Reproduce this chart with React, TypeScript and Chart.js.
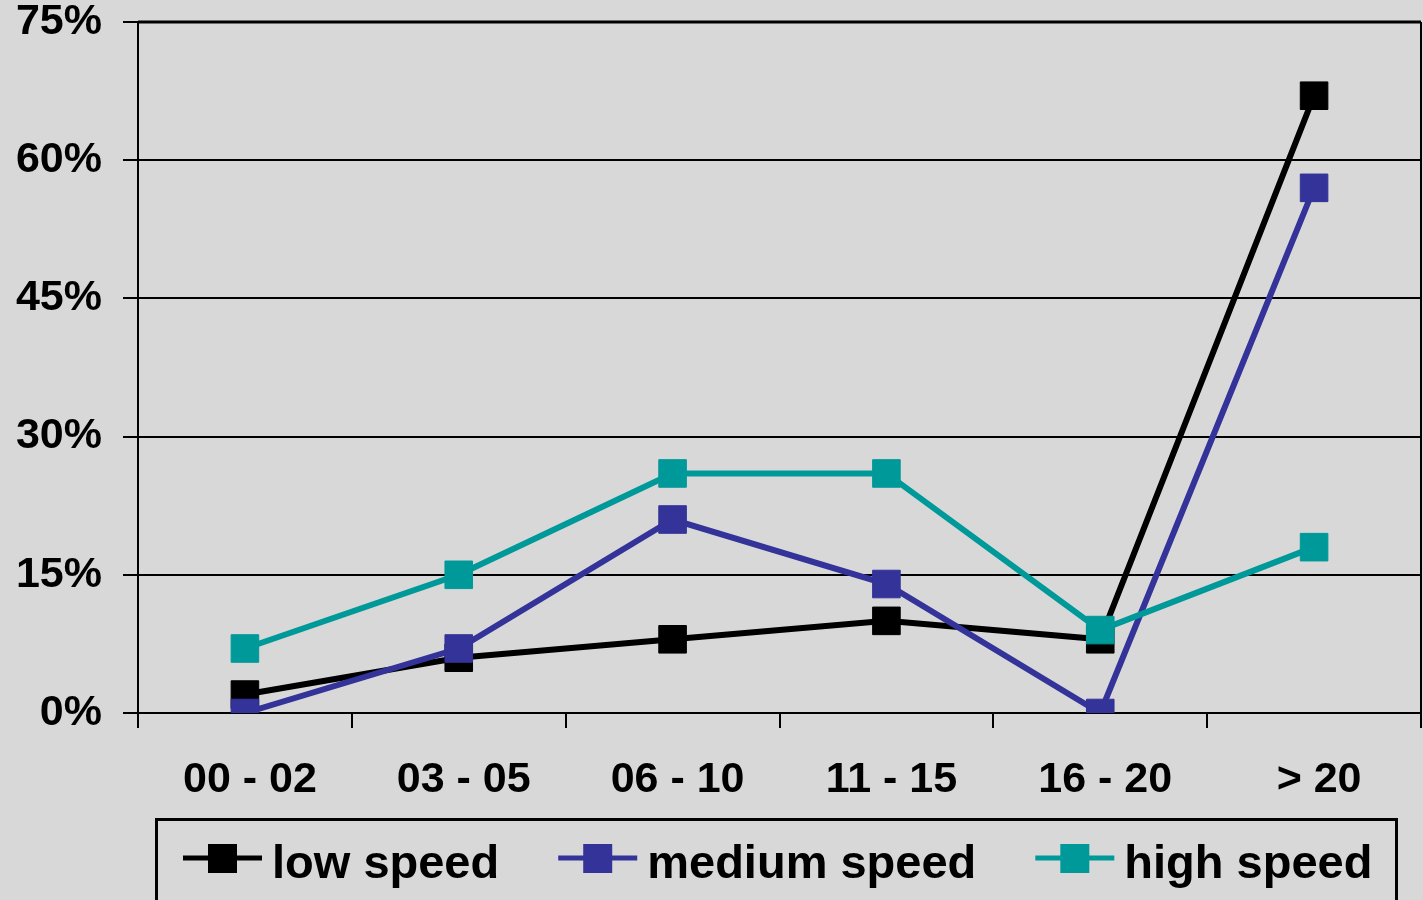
import React, { useEffect, useRef } from "react";
import { Chart, registerables } from "chart.js";

Chart.register(...registerables);

// Journey length bands
const categories = ["00 - 02", "03 - 05", "06 - 10", "11 - 15", "16 - 20", "> 20"];

// Share of trips per band (%)
const lowSpeed = [2, 6, 8, 10, 8, 67];
const mediumSpeed = [0, 7, 21, 14, 0, 57];
const highSpeed = [7, 15, 26, 26, 9, 18];

const seriesNames = ["low speed", "medium speed", "high speed"];
const seriesColors = ["#000000", "#333399", "#009999"];

const yTicks = [0, 15, 30, 45, 60, 75];

const FONT = '"Liberation Sans", Arial, Helvetica, sans-serif';
const BG = "#d8d8d8";

const backgroundPlugin = {
  id: "pageBackground",
  beforeDraw(chart: any) {
    const ctx = chart.ctx;
    ctx.save();
    ctx.fillStyle = BG;
    ctx.fillRect(0, 0, chart.width, chart.height);
    ctx.restore();
  },
};

// Plot frame (top and right edges) plus the boxed legend underneath the axis
const frameAndLegendPlugin = {
  id: "frameAndLegend",
  afterDraw(chart: any) {
    const ctx = chart.ctx;
    const area = chart.chartArea;
    ctx.save();
    ctx.strokeStyle = "#000";
    ctx.lineWidth = 3;
    ctx.beginPath();
    ctx.moveTo(area.left, area.top);
    ctx.lineTo(area.right, area.top);
    ctx.stroke();
    ctx.lineWidth = 2;
    ctx.beginPath();
    ctx.moveTo(area.right, area.top);
    ctx.lineTo(area.right, area.bottom);
    ctx.stroke();

    // legend box
    ctx.lineWidth = 3;
    ctx.strokeRect(156.5, 819.5, 1240, 140);

    ctx.font = `bold 47px ${FONT}`;
    ctx.textBaseline = "alphabetic";
    let x = 183;
    const cy = 858;
    chart.data.datasets.forEach((ds: any) => {
      const color = ds.borderColor;
      ctx.strokeStyle = color;
      ctx.lineWidth = 5;
      ctx.beginPath();
      ctx.moveTo(x, cy);
      ctx.lineTo(x + 79, cy);
      ctx.stroke();
      ctx.fillStyle = color;
      ctx.fillRect(x + 25, cy - 14, 29, 29);
      const tx = x + 89;
      ctx.fillStyle = "#000";
      ctx.fillText(ds.label, tx, cy + 20);
      x = tx + ctx.measureText(ds.label).width + 59;
    });
    ctx.restore();
  },
};

export default function App() {
  const canvasRef = useRef<HTMLCanvasElement | null>(null);

  useEffect(() => {
    document.body.style.margin = "0";
    const canvas = canvasRef.current;
    if (!canvas) return;

    const values = [lowSpeed, mediumSpeed, highSpeed];
    const datasets = values.map((data, i) => ({
      label: seriesNames[i],
      data,
      borderColor: seriesColors[i],
      backgroundColor: seriesColors[i],
      pointBackgroundColor: seriesColors[i],
      pointBorderColor: seriesColors[i],
      borderWidth: 6,
      pointStyle: "rect",
      pointRadius: 19.5,
      pointBorderWidth: 1,
      tension: 0,
      order: 3 - i,
    }));

    const chart = new Chart(canvas, {
      type: "line",
      data: { labels: categories, datasets },
      plugins: [backgroundPlugin, frameAndLegendPlugin],
      options: {
        animation: false,
        responsive: false,
        layout: { autoPadding: false, padding: { left: 0, top: 22, right: 2, bottom: 0 } },
        plugins: {
          legend: { display: false },
          tooltip: { enabled: false },
          title: { display: false },
        },
        scales: {
          x: {
            type: "category",
            offset: true,
            grid: {
              offset: true,
              drawOnChartArea: false,
              drawTicks: true,
              tickLength: 15,
              color: "#000",
              lineWidth: 2,
            },
            border: { display: true, color: "#000", width: 2 },
            ticks: {
              color: "#000",
              font: { family: FONT, size: 43, weight: "bold" },
              padding: 26,
              labelOffset: 5,
              maxRotation: 0,
            },
            afterFit(scale: any) {
              scale.height = 187;
              scale.paddingLeft = 0;
              scale.paddingRight = 0;
            },
          },
          y: {
            min: 0,
            max: 75,
            afterBuildTicks(scale: any) {
              scale.ticks = yTicks.map((v) => ({ value: v }));
            },
            grid: {
              color: "#000",
              lineWidth: 2,
              tickLength: 15,
              drawTicks: true,
            },
            border: { display: true, color: "#000", width: 2 },
            ticks: {
              color: "#000",
              font: { family: FONT, size: 43, weight: "bold" },
              padding: 21,
              callback: (v: any) => `${v}%`,
            },
            afterFit(scale: any) {
              scale.width = 138;
              scale.paddingTop = 0;
              scale.paddingBottom = 0;
            },
          },
        },
      } as any,
    });

    return () => chart.destroy();
  }, []);

  return (
    <div style={{ position: "fixed", left: 0, top: 0, width: 1423, height: 900, background: BG }}>
      <canvas ref={canvasRef} width={1423} height={900} style={{ display: "block" }} />
    </div>
  );
}
